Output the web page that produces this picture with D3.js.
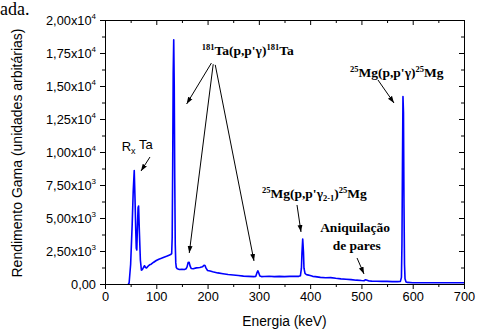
<!DOCTYPE html>
<html>
<head>
<meta charset="utf-8">
<script src="https://cdn.jsdelivr.net/npm/d3@7"></script>
<style>
  html, body { margin: 0; padding: 0; background: #fff; }
  svg { display: block; }
</style>
</head>
<body>
<svg id="chart" width="477" height="329"></svg>
<script>
// Gamma spectrum: energy (keV) and yield (arbitrary units)
const energy = [45, 47, 50, 53, 55, 57, 58.5, 60, 61, 62, 63, 64.5, 65.5, 67, 69, 71, 73, 75, 77, 79, 81, 84, 87, 90, 95, 100, 105, 110, 115, 120, 125, 128, 130,
  131, 132, 133, 134, 135, 136, 137, 138, 139, 141, 145, 150, 155, 158, 160, 162, 164, 166, 168, 172, 178, 185, 190, 193, 195, 197, 200, 205, 210,
  220, 230, 240, 250, 260, 270, 280, 290, 294, 296, 298, 300, 302, 305, 310, 320, 330, 340, 350, 360, 370, 378, 381, 383, 384, 385.5, 387, 388, 390,
  393, 395, 400, 405, 410, 420, 430, 440, 450, 460, 470, 480, 490, 500, 505, 508, 511, 515, 520, 530, 540, 550, 560, 570, 576, 578, 579, 580, 581,
  582, 583, 584, 585, 587, 590, 600, 620, 640, 660, 680, 700];
const counts = [0, 60, 1500, 4500, 7000, 8600, 6500, 4000, 2700, 2580, 4000, 5800, 5900, 4000, 1800, 1050, 1100, 1250, 1380, 1250, 1220, 1350, 1450, 1500, 1650, 1780, 1880, 1950, 2030, 2100, 2180, 2230, 2300,
  3500, 9000, 16000, 18500, 15000, 8000, 3000, 1600, 1250, 1150, 1100, 1120, 1100, 1150, 1300, 1620, 1650, 1350, 1180, 1160, 1220, 1250, 1300, 1420, 1400, 1200, 1020, 980, 930,
  840, 780, 720, 680, 640, 600, 580, 560, 580, 820, 1000, 820, 600, 560, 570, 590, 560, 580, 560, 580, 590, 580, 620, 1200, 2300, 3400, 2400, 1200, 800,
  700, 690, 640, 580, 560, 500, 470, 480, 430, 390, 360, 330, 290, 260, 250, 320, 280, 230, 220, 210, 200, 200, 180, 180, 200, 500, 3000, 9000, 14200,
  13000, 6000, 1500, 400, 160, 120, 100, 100, 100, 100, 100, 100];

// Axis ticks
const xTicks = [0, 100, 200, 300, 400, 500, 600, 700];
const xMinor = [50, 150, 250, 350, 450, 550, 650];
const yTicks = [0, 2500, 5000, 7500, 10000, 12500, 15000, 17500, 20000];
const yTickMantissa = ["0,00", "2,50", "5,00", "7,50", "1,00", "1,25", "1,50", "1,75", "2,00"];
const yTickExponent = ["", "3", "3", "3", "4", "4", "4", "4", "4"];
const yMinor = [1250, 3750, 6250, 8750, 11250, 13750, 16250, 18750];

const svg = d3.select("#chart");
const plotLeft = 105, plotRight = 464, plotTop = 20, plotBottom = 284;
const x = d3.scaleLinear().domain([0, 700]).range([plotLeft, plotRight]);
const y = d3.scaleLinear().domain([0, 20000]).range([plotBottom, plotTop]);

const sans = "'Liberation Sans', Arial, sans-serif";
const serif = "'Liberation Serif', 'Times New Roman', serif";

// Fragment of the surrounding paragraph text
svg.append("text").attr("x", 0).attr("y", 15)
  .attr("font-family", serif).attr("font-size", 18).text("ada.");

// Spectrum line
const pts = energy.map((e, i) => [e, counts[i]]);
svg.append("path")
  .datum(pts)
  .attr("fill", "none")
  .attr("stroke", "#0000ff")
  .attr("stroke-width", 1.6)
  .attr("stroke-linejoin", "round")
  .attr("d", d3.line().x(d => x(d[0])).y(d => y(d[1])));

// Axes
function styleAxis(g) {
  g.selectAll(".domain").attr("stroke", "#000").attr("stroke-width", 1);
  g.selectAll(".tick line").attr("stroke", "#000").attr("stroke-width", 1);
}
const gx = svg.append("g").attr("transform", `translate(0,${plotBottom})`)
  .call(d3.axisBottom(x).tickValues(xTicks).tickSize(5).tickSizeOuter(0).tickPadding(3))
  .call(styleAxis);
gx.selectAll("text").attr("font-family", sans).attr("font-size", 12.8).attr("fill", "#000");
svg.append("g").attr("transform", `translate(0,${plotBottom})`)
  .call(d3.axisBottom(x).tickValues(xMinor).tickSize(3).tickFormat("")).call(styleAxis)
  .select(".domain").remove();

svg.append("g").attr("transform", `translate(0,${plotTop})`)
  .call(d3.axisBottom(x).tickValues(xTicks).tickSize(5).tickSizeOuter(0).tickFormat(""))
  .call(styleAxis);
svg.append("g").attr("transform", `translate(0,${plotTop})`)
  .call(d3.axisBottom(x).tickValues(xMinor).tickSize(3).tickFormat("")).call(styleAxis)
  .select(".domain").remove();

const gy = svg.append("g").attr("transform", `translate(${plotLeft},0)`)
  .call(d3.axisLeft(y).tickValues(yTicks).tickSize(5).tickSizeOuter(0).tickPadding(3).tickFormat(""))
  .call(styleAxis);
svg.append("g").attr("transform", `translate(${plotLeft},0)`)
  .call(d3.axisLeft(y).tickValues(yMinor).tickSize(3).tickFormat("")).call(styleAxis)
  .select(".domain").remove();

gy.selectAll(".tick").each(function(d, i) {
  d3.select(this).select("text").remove();
  const t = d3.select(this).append("text")
    .attr("x", -9).attr("y", 0).attr("dy", "0.35em")
    .attr("text-anchor", "end")
    .attr("font-family", sans).attr("font-size", 12.8).attr("fill", "#000");
  if (yTickExponent[i]) {
    t.append("tspan").text(yTickMantissa[i] + "x10");
    t.append("tspan").attr("font-size", 8).attr("dy", "-0.75em").text(yTickExponent[i]);
  } else {
    t.text(yTickMantissa[i]);
  }
});

svg.append("g").attr("transform", `translate(${plotRight},0)`)
  .call(d3.axisLeft(y).tickValues(yTicks).tickSize(5).tickSizeOuter(0).tickFormat(""))
  .call(styleAxis);
svg.append("g").attr("transform", `translate(${plotRight},0)`)
  .call(d3.axisLeft(y).tickValues(yMinor).tickSize(3).tickFormat("")).call(styleAxis)
  .select(".domain").remove();

// Axis titles
svg.append("text")
  .attr("transform", `translate(22,${(plotTop + plotBottom) / 2 + 1}) rotate(-90)`)
  .attr("text-anchor", "middle")
  .attr("font-family", sans).attr("font-size", 14).text("Rendimento Gama (unidades arbitárias)");
svg.append("text")
  .attr("x", (plotLeft + plotRight) / 2).attr("y", 326)
  .attr("text-anchor", "middle")
  .attr("font-family", sans).attr("font-size", 13.8).text("Energia (keV)");

// Arrowhead
svg.append("defs").append("marker")
  .attr("id", "head").attr("viewBox", "0 0 10 10")
  .attr("refX", 10).attr("refY", 5)
  .attr("markerWidth", 7).attr("markerHeight", 7)
  .attr("markerUnits", "userSpaceOnUse")
  .attr("orient", "auto")
  .append("path").attr("d", "M0,1.5 L10,5 L0,8.5 Z").attr("fill", "#000");

// Annotation arrows in data units: [keV start, yield start, keV tip, yield tip]
const arrows = [
  [87.7, 9620, 70.2, 8560],
  [207.5, 16740, 159.2, 13640],
  [211, 16650, 164.3, 2350],
  [215, 16600, 290.5, 1750],
  [532.3, 15455, 563.5, 13712],
  [374.4, 5985, 382.2, 3940],
  [491.4, 1970, 505, 760]
];
svg.selectAll("line.arrow").data(arrows).join("line")
  .attr("class", "arrow")
  .attr("x1", d => x(d[0])).attr("y1", d => y(d[1]))
  .attr("x2", d => x(d[2])).attr("y2", d => y(d[3]))
  .attr("stroke", "#000").attr("stroke-width", 1)
  .attr("marker-end", "url(#head)");

// Labels
const rx = svg.append("text").attr("x", x(32.5)).attr("y", y(10100))
  .attr("font-family", sans).attr("font-size", 13);
rx.append("tspan").text("R");
rx.append("tspan").attr("font-size", 9).attr("dy", "0.35em").text("x");
rx.append("tspan").attr("dy", "-0.35em").text(" Ta");

function nuclide(xv, yv, parts) {
  const t = svg.append("text").attr("x", x(xv)).attr("y", y(yv))
    .attr("font-family", serif).attr("font-size", 13.5).attr("font-weight", "bold");
  let shift = 0;
  parts.forEach(p => {
    const target = p.sup ? -5 : p.sub ? 3 : 0;
    const ts = t.append("tspan").attr("dy", target - shift).text(p.t);
    if (p.sup || p.sub) ts.attr("font-size", 8.5);
    shift = target;
  });
}
nuclide(188.5, 17350, [{t: "181", sup: true}, {t: "Ta(p,p'"}, {t: "γ"}, {t: ")"}, {t: "181", sup: true}, {t: "Ta"}]);
nuclide(477.7, 15680, [{t: "25", sup: true}, {t: "Mg(p,p'"}, {t: "γ"}, {t: ")"}, {t: "25", sup: true}, {t: "Mg"}]);
nuclide(306.1, 6515, [{t: "25", sup: true}, {t: "Mg(p,p'"}, {t: "γ"}, {t: "2-1", sub: true}, {t: ")"}, {t: "25", sup: true}, {t: "Mg"}]);

svg.append("text").attr("x", x(487.5)).attr("y", y(3940))
  .attr("text-anchor", "middle")
  .attr("font-family", serif).attr("font-size", 13.5).attr("font-weight", "bold").text("Aniquilação");
svg.append("text").attr("x", x(491)).attr("y", y(2576))
  .attr("text-anchor", "middle")
  .attr("font-family", serif).attr("font-size", 13.5).attr("font-weight", "bold").text("de pares");
</script>
</body>
</html>
